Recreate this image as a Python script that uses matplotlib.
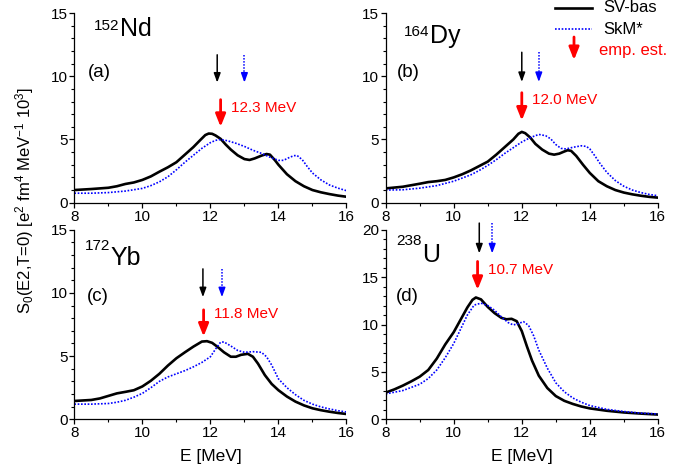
import matplotlib
matplotlib.use("Agg")
import matplotlib.pyplot as plt
from matplotlib.lines import Line2D
from matplotlib.patches import FancyArrowPatch
from matplotlib.ticker import MultipleLocator

plt.rcParams['font.family'] = ['Liberation Sans', 'DejaVu Sans']
plt.rcParams['mathtext.fontset'] = 'custom'
plt.rcParams['mathtext.rm'] = 'Liberation Sans'
plt.rcParams['mathtext.it'] = 'Liberation Sans:italic'

# ---- strength functions S0(E2, T=0) per nucleus ----
# 152Nd
nd_sv_E = [8.0, 8.5, 9.0, 9.25, 9.5, 9.75, 10.0, 10.25, 10.5, 10.75, 11.0, 11.25, 11.5, 11.7, 11.85, 11.95,
           12.05, 12.15, 12.3, 12.45, 12.6, 12.8, 13.0, 13.15, 13.3, 13.5, 13.65, 13.75, 13.9, 14.0, 14.25,
           14.5, 14.75, 15.0, 15.25, 15.5, 15.75, 16.0]
nd_sv_S = [1.0, 1.08, 1.18, 1.3, 1.48, 1.6, 1.8, 2.08, 2.45, 2.8, 3.2, 3.8, 4.4, 4.95, 5.35, 5.47,
           5.45, 5.32, 5.05, 4.6, 4.2, 3.75, 3.45, 3.38, 3.5, 3.72, 3.85, 3.8, 3.35, 3.0, 2.25,
           1.7, 1.3, 1.0, 0.82, 0.68, 0.56, 0.47]
nd_skm_E = [8.0, 8.5, 9.0, 9.5, 10.0, 10.25, 10.5, 10.75, 11.0, 11.25, 11.5, 11.75, 12.0, 12.15, 12.3,
            12.5, 12.75, 13.0, 13.25, 13.5, 13.75, 14.0, 14.15, 14.3, 14.45, 14.55, 14.7, 14.85, 15.0,
            15.25, 15.5, 15.75, 16.0]
nd_skm_S = [0.75, 0.75, 0.8, 0.92, 1.13, 1.35, 1.65, 2.05, 2.6, 3.2, 3.75, 4.3, 4.75, 4.93, 5.0,
            4.9, 4.7, 4.45, 4.15, 3.9, 3.6, 3.35, 3.35, 3.55, 3.72, 3.73, 3.4, 2.85, 2.35,
            1.8, 1.4, 1.15, 0.95]

# 164Dy
dy_sv_E = [8.0, 8.5, 8.75, 9.0, 9.25, 9.5, 9.75, 10.0, 10.25, 10.5, 10.75, 11.0, 11.25, 11.5, 11.75,
           11.9, 12.0, 12.1, 12.25, 12.4, 12.6, 12.8, 12.95, 13.1, 13.25, 13.35, 13.45, 13.6, 13.8,
           14.0, 14.25, 14.5, 14.75, 15.0, 15.25, 15.5, 15.75, 16.0]
dy_sv_S = [1.13, 1.26, 1.38, 1.5, 1.63, 1.7, 1.8, 2.0, 2.25, 2.55, 2.9, 3.25, 3.8, 4.4, 5.0,
           5.45, 5.6, 5.5, 5.15, 4.65, 4.2, 3.88, 3.8, 3.88, 4.05, 4.15, 4.1, 3.7, 3.0,
           2.35, 1.7, 1.3, 1.0, 0.8, 0.66, 0.55, 0.46, 0.4]
dy_skm_E = [8.0, 8.5, 9.0, 9.5, 10.0, 10.5, 10.75, 11.0, 11.25, 11.5, 11.75, 12.0, 12.25, 12.5, 12.7,
            12.85, 13.0, 13.15, 13.3, 13.5, 13.75, 13.9, 14.0, 14.15, 14.3, 14.5, 14.75, 15.0, 15.25,
            15.5, 15.75, 16.0]
dy_skm_S = [1.0, 1.02, 1.15, 1.35, 1.7, 2.2, 2.55, 2.95, 3.4, 3.9, 4.35, 4.8, 5.15, 5.4, 5.3,
            5.05, 4.6, 4.3, 4.25, 4.38, 4.5, 4.45, 4.25, 3.7, 3.1, 2.4, 1.75, 1.3, 1.0,
            0.8, 0.65, 0.55]

# 172Yb
yb_sv_E = [8.0, 8.5, 8.75, 9.0, 9.25, 9.5, 9.75, 10.0, 10.25, 10.5, 10.75, 11.0, 11.25, 11.5, 11.75,
           11.9, 12.05, 12.2, 12.4, 12.6, 12.75, 12.9, 13.1, 13.25, 13.4, 13.6, 13.8, 14.0, 14.25,
           14.5, 14.75, 15.0, 15.25, 15.5, 15.75, 16.0]
yb_sv_S = [1.45, 1.53, 1.65, 1.85, 2.05, 2.17, 2.3, 2.6, 3.05, 3.6, 4.25, 4.83, 5.3, 5.75, 6.15,
           6.18, 6.05, 5.75, 5.3, 4.95, 4.95, 5.1, 5.18, 4.95, 4.4, 3.5, 2.8, 2.3, 1.8,
           1.4, 1.1, 0.87, 0.72, 0.6, 0.5, 0.42]
yb_skm_E = [8.0, 8.5, 9.0, 9.25, 9.5, 9.75, 10.0, 10.25, 10.5, 10.75, 11.0, 11.25, 11.5, 11.75, 12.0,
            12.15, 12.3, 12.4, 12.6, 12.8, 13.0, 13.25, 13.5, 13.65, 13.8, 14.0, 14.25, 14.5, 14.75,
            15.0, 15.25, 15.5, 15.75, 16.0]
yb_skm_S = [1.2, 1.2, 1.25, 1.35, 1.5, 1.75, 2.05, 2.5, 3.0, 3.35, 3.6, 3.85, 4.15, 4.5, 4.95,
            5.55, 6.1, 6.12, 5.8, 5.45, 5.3, 5.35, 5.3, 4.95, 4.3, 3.2, 2.5, 1.95, 1.5,
            1.2, 0.98, 0.82, 0.68, 0.58]

# 238U
u_sv_E = [8.0, 8.25, 8.5, 8.75, 9.0, 9.25, 9.5, 9.75, 10.0, 10.2, 10.4, 10.55, 10.65, 10.8, 11.0,
          11.2, 11.4, 11.55, 11.7, 11.85, 12.0, 12.15, 12.3, 12.5, 12.75, 13.0, 13.25, 13.5, 13.75,
          14.0, 14.5, 15.0, 15.5, 16.0]
u_sv_S = [2.82, 3.15, 3.55, 4.0, 4.5, 5.2, 6.4, 7.9, 9.2, 10.5, 11.8, 12.6, 12.85, 12.65, 11.85,
          11.2, 10.7, 10.55, 10.6, 10.35, 9.3, 7.7, 6.2, 4.6, 3.3, 2.45, 1.95, 1.62, 1.35,
          1.15, 0.9, 0.72, 0.6, 0.5]
u_skm_E = [8.0, 8.5, 9.0, 9.25, 9.5, 9.75, 10.0, 10.2, 10.4, 10.6, 10.8, 11.0, 11.2, 11.4, 11.6,
           11.75, 11.9, 12.05, 12.2, 12.35, 12.5, 12.75, 13.0, 13.25, 13.5, 13.75, 14.0, 14.5, 15.0,
           15.5, 16.0]
u_skm_S = [2.68, 3.03, 3.7, 4.3, 5.2, 6.5, 8.0, 9.5, 11.0, 12.05, 12.25, 12.0, 11.5, 10.8, 10.2,
           9.95, 10.1, 10.3, 9.9, 8.8, 7.3, 5.4, 3.85, 2.9, 2.25, 1.8, 1.45, 1.05, 0.82,
           0.65, 0.56]

# centroid energies (MeV): SV-bas, SkM*, empirical estimate
sv_centroid = [12.2, 12.0, 11.78, 10.75]
skm_centroid = [13.0, 12.5, 12.34, 11.13]
emp_estimate = [12.3, 12.0, 11.8, 10.7]

panel_tags = ['(a)', '(b)', '(c)', '(d)']
mass_numbers = ['152', '164', '172', '238']
elements = ['Nd', 'Dy', 'Yb', 'U']
y_limits = [15, 15, 15, 20]

sv_curves = [(nd_sv_E, nd_sv_S), (dy_sv_E, dy_sv_S), (yb_sv_E, yb_sv_S), (u_sv_E, u_sv_S)]
skm_curves = [(nd_skm_E, nd_skm_S), (dy_skm_E, dy_skm_S), (yb_skm_E, yb_skm_S), (u_skm_E, u_skm_S)]

# layout: arrow extents and label placement in data units
theory_arrow_y = [(11.7, 9.5), (11.9, 9.55), (11.9, 9.66), (20.7, 17.5)]
emp_arrow_y = [(8.15, 6.0), (8.7, 6.5), (8.66, 6.55), (16.65, 13.66)]
emp_text_pos = [(12.62, 7.5), (12.3, 8.15), (12.12, 8.3), (11.0, 15.7)]
tag_pos = [(8.4, 10.3), (8.32, 10.3), (8.36, 9.7), (8.3, 13.0)]
mass_pos = [(8.56, 13.7), (8.52, 13.2), (8.31, 13.4), (8.3, 18.4)]
elem_pos = [(9.33, 13.2), (9.3, 12.6), (9.05, 12.2), (9.06, 16.55)]

BLUE = '#0000ff'
RED = '#ff0000'

W, H = 696, 474
fig = plt.figure(figsize=(W / 100, H / 100), dpi=100)

ax_w = 0.391
ax_h = 0.4
rects = [
    (0.1068, 0.5724, ax_w, ax_h),
    (0.5542, 0.5724, ax_w, ax_h),
    (0.1068, 0.1154, ax_w, ax_h),
    (0.5542, 0.1154, ax_w, ax_h),
]


def draw_arrow(ax, x, y0, y1, color, lw, hl, hw, dotted=False, clip=True):
    """Downward arrow from y0 to y1 at x; optional dotted shaft."""
    style = '-|>,head_length=%g,head_width=%g' % (hl, hw)
    if dotted:
        frac = 0.28
        ymid = y1 + (y0 - y1) * frac
        ax.plot([x, x], [y0, ymid], color=color, lw=lw, ls=(0, (1, 1)),
                solid_capstyle='butt', clip_on=clip)
        ax.annotate('', xy=(x, y1), xytext=(x, ymid),
                    arrowprops=dict(arrowstyle=style, color=color, lw=lw,
                                    shrinkA=0, shrinkB=0),
                    annotation_clip=False)
    else:
        ax.annotate('', xy=(x, y1), xytext=(x, y0),
                    arrowprops=dict(arrowstyle=style, color=color, lw=lw,
                                    shrinkA=0, shrinkB=0),
                    annotation_clip=False)


axes = []
for i in range(4):
    ax = fig.add_axes(rects[i])
    axes.append(ax)
    E, S = sv_curves[i]
    ax.plot(E, S, color='black', lw=1.9, solid_joinstyle='round')
    E, S = skm_curves[i]
    ax.plot(E, S, color=BLUE, lw=1.2, ls=(0, (1, 1)))

    ax.set_xlim(8, 16)
    ax.set_ylim(0, y_limits[i])
    ax.xaxis.set_major_locator(MultipleLocator(2))
    ax.xaxis.set_minor_locator(MultipleLocator(1))
    ax.yaxis.set_major_locator(MultipleLocator(5))
    ax.yaxis.set_minor_locator(MultipleLocator(1))
    ax.spines['top'].set_visible(False)
    ax.spines['right'].set_visible(False)
    for sp in ('left', 'bottom'):
        ax.spines[sp].set_linewidth(0.9)
    ax.tick_params(which='major', direction='out', length=3.5, width=0.9,
                   labelsize=11, pad=1.5)
    ax.tick_params(which='minor', direction='out', length=2, width=0.8)

    # centroid arrows
    y0, y1 = theory_arrow_y[i]
    clip = i != 3
    draw_arrow(ax, sv_centroid[i], y0, y1, 'black', 1.1, 0.55, 0.2, clip=clip)
    draw_arrow(ax, skm_centroid[i], y0, y1, BLUE, 1.1, 0.55, 0.2, dotted=True, clip=clip)
    y0, y1 = emp_arrow_y[i]
    draw_arrow(ax, emp_estimate[i], y0, y1, RED, 2.0, 0.75, 0.3)
    tx, ty = emp_text_pos[i]
    ax.text(tx, ty, '%.1f MeV' % emp_estimate[i], color=RED, fontsize=11,
            ha='left', va='center')

    # nucleus and panel labels
    ax.text(*tag_pos[i], panel_tags[i], fontsize=13.5, ha='left', va='center')
    ax.text(*mass_pos[i], mass_numbers[i], fontsize=11, ha='left', va='baseline')
    ax.text(*elem_pos[i], elements[i], fontsize=18, ha='left', va='baseline')

for ax in axes[2:]:
    ax.set_xlabel('E [MeV]', fontsize=12.5, labelpad=6)

fig.text(25 / W, 1 - 200 / H,
         r'S$_0$(E2,T=0) [e$^2$ fm$^4$ MeV$^{-1}$ 10$^3$]',
         rotation=90, fontsize=12, ha='center', va='center')


# legend drawn in figure pixels
def fx(px):
    return px / W


def fy(py):
    return 1 - py / H


fig.add_artist(Line2D([fx(555), fx(592)], [fy(8), fy(8)], color='black', lw=1.9,
                      transform=fig.transFigure))
fig.add_artist(Line2D([fx(555), fx(592)], [fy(29), fy(29)], color=BLUE, lw=1.2,
                      ls=(0, (1, 1)), transform=fig.transFigure))
fig.text(fx(603), fy(8), 'SV-bas', fontsize=12, ha='left', va='center')
fig.text(fx(603), fy(29), 'SkM*', fontsize=12, ha='left', va='center')
fig.text(fx(599), fy(51), 'emp. est.', fontsize=12, color=RED, ha='left', va='center')
fig.add_artist(FancyArrowPatch(
    (fx(574), fy(37)), (fx(574), fy(60)), transform=fig.transFigure,
    arrowstyle='-|>,head_length=0.75,head_width=0.3', color=RED, lw=2.0,
    shrinkA=0, shrinkB=0, mutation_scale=10))

fig.savefig('out.png', dpi=100)
